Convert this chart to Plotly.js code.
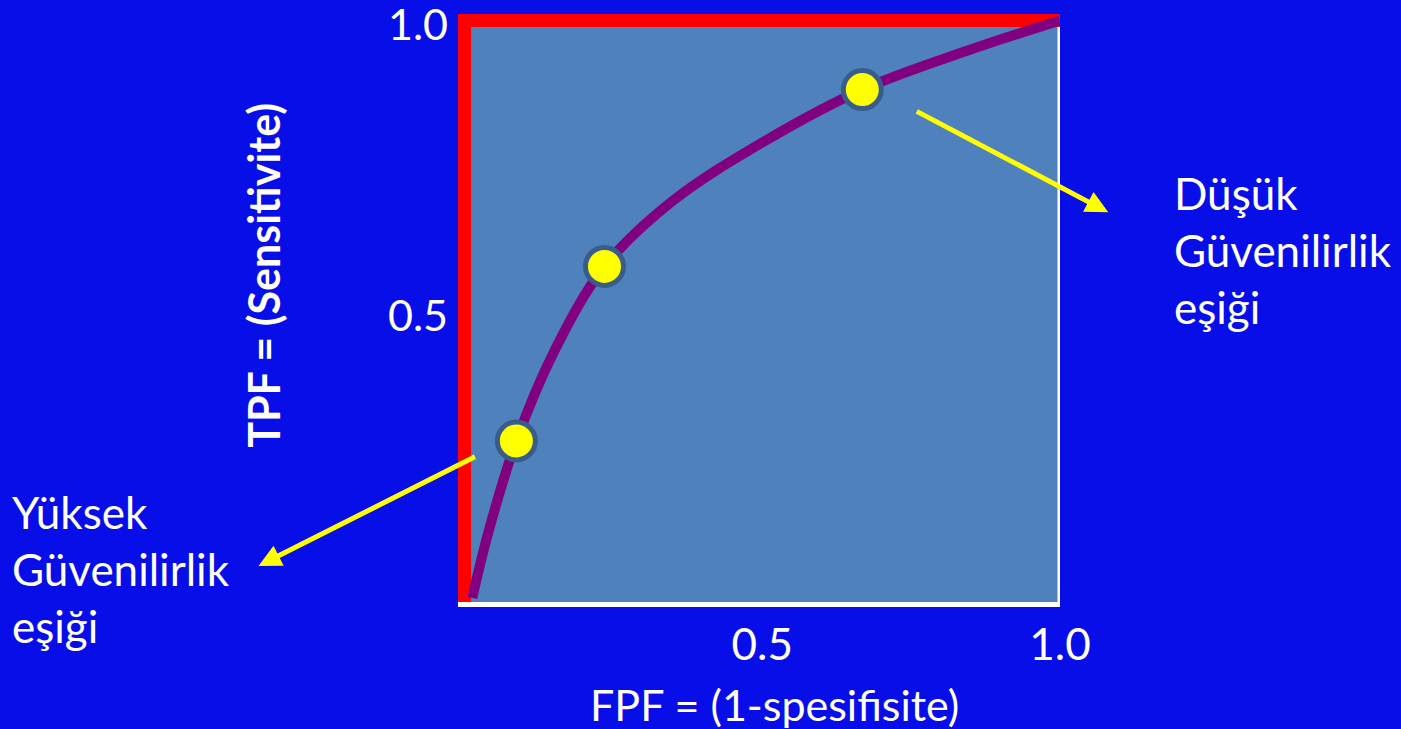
<!DOCTYPE html>
<html>
<head>
<meta charset="utf-8">
<script src="https://cdn.plot.ly/plotly-3.0.1.min.js"></script>
<style>
html,body{margin:0;padding:0;background:#080ee8;}
#chart{width:1401px;height:729px;}
</style>
</head>
<body>
<div id="chart"></div>
<script>
// ROC curve
var curveFPF = [0.013, 0.04, 0.087, 0.15, 0.235, 0.35, 0.5, 0.668, 0.85, 1.0];
var curveTPF = [0.007, 0.12, 0.277, 0.43, 0.577, 0.69, 0.79, 0.881, 0.95, 1.0];
// threshold points
var pointFPF = [0.087, 0.235, 0.668];
var pointTPF = [0.277, 0.577, 0.881];
// perfect classifier path
var perfectFPF = [0, 0, 1];
var perfectTPF = [0, 1, 1];
// tick labels
var tickVals = [0.5, 1.0];
var tickText = ["0.5", "1.0"];
// labels
var xTitle = "FPF = (1-spesifisite)";
var yTitle = "TPF = (Sensitivite)";
var highLabel = "Yüksek<br>Güvenilirlik<br>eşiği";
var lowLabel = "Düşük<br>Güvenilirlik<br>eşiği";
// arrows: [tailX, tailY, headX, headY]
var arrowHigh = [0.020, 0.251, -0.346, 0.062];
var arrowLow = [0.757, 0.845, 1.081, 0.670];

var FONT = "Lato, 'Open Sans', sans-serif";
var traces = [
  {x: perfectFPF, y: perfectTPF, mode: "lines", line: {color: "#ff0000", width: 13}, cliponaxis: false, hoverinfo: "skip", showlegend: false},
  {x: curveFPF, y: curveTPF, mode: "lines", line: {color: "#800080", width: 10, shape: "spline", smoothing: 1.0}, cliponaxis: false, hoverinfo: "skip", showlegend: false},
  {x: pointFPF, y: pointTPF, mode: "markers", marker: {color: "#ffff00", size: 38, line: {color: "#385d8a", width: 5}}, cliponaxis: false, showlegend: false}
];

function arrow(a) {
  return {x: a[2], y: a[3], ax: a[0], ay: a[1], xref: "x", yref: "y", axref: "x", ayref: "y",
    text: "", showarrow: true, arrowhead: 2, arrowsize: 0.9, arrowwidth: 5, arrowcolor: "#ffff00"};
}

var layout = {
  width: 1401, height: 729,
  paper_bgcolor: "#080ee8",
  plot_bgcolor: "#4f81bd",
  margin: {l: 458, r: 341, t: 14, b: 127},
  font: {family: FONT, color: "#ffffff"},
  showlegend: false,
  xaxis: {range: [-0.011, 1], tickvals: tickVals, ticktext: tickText, showgrid: false, zeroline: false,
    showline: true, linecolor: "#ffffff", linewidth: 5, mirror: false, ticks: "",
    tickfont: {family: FONT, size: 44, color: "#ffffff"}, ticklabelstandoff: 0, fixedrange: true},
  yaxis: {range: [0, 1.011], tickvals: tickVals, ticktext: tickText, showgrid: false, zeroline: false,
    showline: false, ticks: "", ticklabeloverflow: "allow", ticklabelshift: 5,
    tickfont: {family: FONT, size: 43, color: "#ffffff"}, ticklabelstandoff: 9, fixedrange: true},
  shapes: [
    {type: "line", xref: "x", yref: "paper", x0: 1, x1: 1, y0: -0.005, y1: 0.99, line: {color: "#ffffff", width: 5}, layer: "below"}
  ],
  annotations: [
    {xref: "paper", yref: "paper", x: 0.526, y: -0.175, text: xTitle, showarrow: false,
      xanchor: "center", yanchor: "middle", font: {family: FONT, size: 43, color: "#ffffff"}},
    {xref: "paper", yref: "paper", x: -0.3243, y: 0.556, text: "<b>" + yTitle + "</b>", textangle: -90, showarrow: false,
      xanchor: "center", yanchor: "middle", font: {family: FONT, size: 43, color: "#ffffff"}},
    {xref: "paper", yref: "paper", x: -0.7436, y: 0.0561, text: highLabel, showarrow: false, align: "left",
      xanchor: "left", yanchor: "middle", font: {family: FONT, size: 44, color: "#ffffff"}},
    {xref: "paper", yref: "paper", x: 1.1867, y: 0.5986, text: lowLabel, showarrow: false, align: "left",
      xanchor: "left", yanchor: "middle", font: {family: FONT, size: 44, color: "#ffffff"}},
    arrow(arrowHigh),
    arrow(arrowLow)
  ]
};

Plotly.newPlot("chart", traces, layout, {displayModeBar: false, staticPlot: true});
</script>
</body>
</html>
